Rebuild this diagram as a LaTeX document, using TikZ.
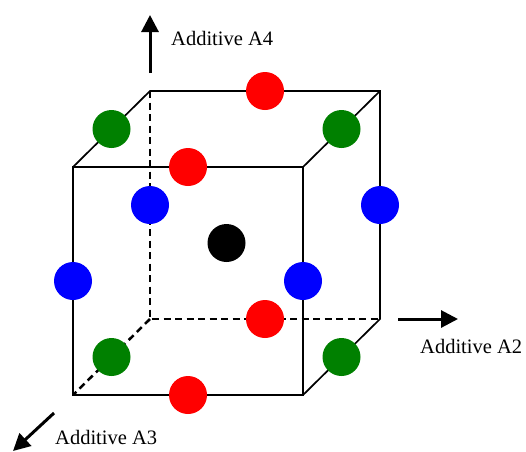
\documentclass[tikz,border=0pt]{standalone}
\usepackage{fontspec}
\setmainfont{Liberation Serif}
\usetikzlibrary{arrows.meta,calc}
\definecolor{ballred}{RGB}{255,0,0}
\definecolor{ballgreen}{RGB}{0,128,0}
\definecolor{ballblue}{RGB}{0,0,255}
\begin{document}
\begin{tikzpicture}[x=1pt,y=-1pt,
  edge/.style={line width=1.7pt,line join=miter},
  hidden/.style={line width=2.5pt,dash pattern=on 7pt off 4.5pt},
  axis/.style={line width=3pt,-{Triangle[length=17pt,width=17pt]}},
  ball/.style={circle,inner sep=0pt,minimum size=38pt},
  lab/.style={inner sep=0pt,anchor=west,font=\fontsize{20.5}{24}\selectfont}]
\useasboundingbox (0,0) rectangle (526,451);
% cube vertices
\coordinate (f1) at (73,167);
\coordinate (f2) at (303,167);
\coordinate (f3) at (303,395);
\coordinate (f4) at (73,395);
\coordinate (b1) at (150,91);
\coordinate (b2) at (380,91);
\coordinate (b3) at (380,319);
\coordinate (b4) at (150,319);
% hidden edges
\draw[hidden] (b1) -- (b4) -- (b3);
\draw[hidden] (b4) -- (f4);
% visible edges
\draw[edge] (f1) -- (f2) -- (f3) -- (f4) -- cycle;
\draw[edge] (f1) -- (b1) -- (b2) -- (b3) -- (f3);
\draw[edge] (f2) -- (b2);
% axes
\coordinate (a4s) at (150,73);
\coordinate (a4e) at (150,15);
\coordinate (a2s) at (398,319);
\coordinate (a2e) at (458,319);
\coordinate (a3s) at (54,413);
\coordinate (a3e) at (13,451);
\draw[axis] (a4s) -- (a4e);
\draw[axis] (a2s) -- (a2e);
\draw[axis] (a3s) -- (a3e);
\node[lab] (l4) at (171,38) {Additive A4};
\node[lab] (l2) at (420,346) {Additive A2};
\node[lab] (l3) at (55,437) {Additive A3};
% balls: red on x-edges
\node[ball,fill=ballred] (r1) at ($(b1)!0.5!(b2)$) {};
\node[ball,fill=ballred] (r2) at ($(f1)!0.5!(f2)$) {};
\node[ball,fill=ballred] (r3) at ($(b4)!0.5!(b3)$) {};
\node[ball,fill=ballred] (r4) at ($(f4)!0.5!(f3)$) {};
% green on depth edges
\node[ball,fill=ballgreen] (g1) at ($(f1)!0.5!(b1)$) {};
\node[ball,fill=ballgreen] (g2) at ($(f2)!0.5!(b2)$) {};
\node[ball,fill=ballgreen] (g3) at ($(f4)!0.5!(b4)$) {};
\node[ball,fill=ballgreen] (g4) at ($(f3)!0.5!(b3)$) {};
% blue on vertical edges
\node[ball,fill=ballblue] (u1) at ($(b1)!0.5!(b4)$) {};
\node[ball,fill=ballblue] (u2) at ($(b2)!0.5!(b3)$) {};
\node[ball,fill=ballblue] (u3) at ($(f1)!0.5!(f4)$) {};
\node[ball,fill=ballblue] (u4) at ($(f2)!0.5!(f3)$) {};
% centre
\node[ball,fill=black] (c) at ($(f1)!0.5!(b3)$) {};
\end{tikzpicture}
\end{document}
